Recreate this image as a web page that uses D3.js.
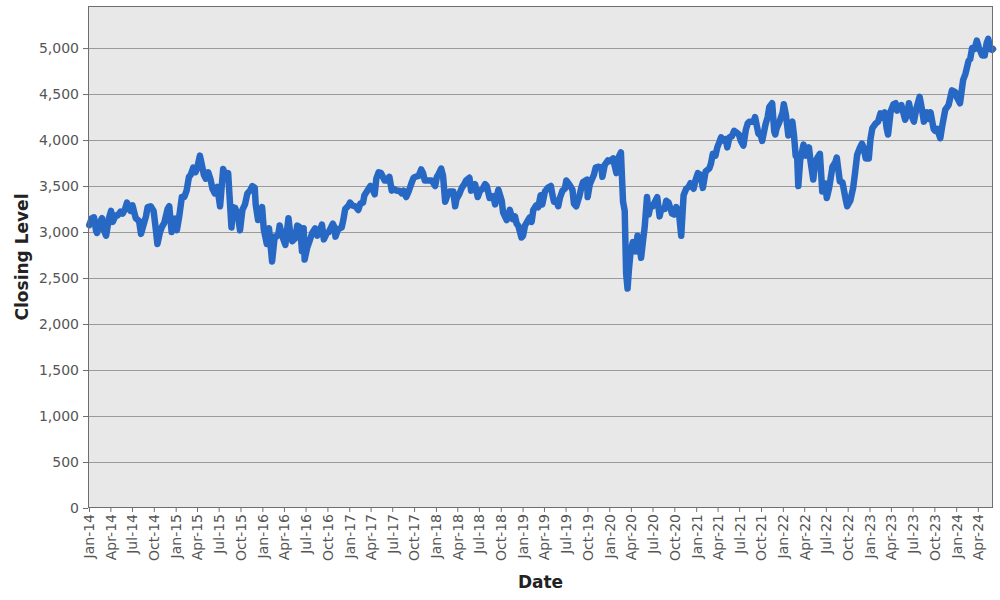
<!DOCTYPE html>
<html>
<head>
<meta charset="utf-8">
<script src="https://cdn.jsdelivr.net/npm/d3@7"></script>
<style>
  body { margin: 0; background: #fff; }
  svg { display: block; font-family: "DejaVu Sans", sans-serif; }
</style>
</head>
<body>
<svg id="chart"></svg>
<script>
const dates = [
  "2014-01-02","2014-01-13","2014-01-22","2014-01-31","2014-02-04","2014-02-14","2014-02-25","2014-03-03","2014-03-14","2014-03-26",
  "2014-04-04","2014-04-11","2014-04-23","2014-05-02","2014-05-13","2014-05-23","2014-06-02","2014-06-10","2014-06-24","2014-07-03",
  "2014-07-17","2014-07-31","2014-08-08","2014-08-19","2014-08-29","2014-09-05","2014-09-18","2014-09-30","2014-10-08","2014-10-16",
  "2014-10-27","2014-11-05","2014-11-14","2014-11-28","2014-12-05","2014-12-15","2014-12-31",
  "2015-01-06","2015-01-16","2015-01-27","2015-02-06","2015-02-16","2015-02-26","2015-03-05","2015-03-16","2015-03-26","2015-04-02",
  "2015-04-13","2015-04-22","2015-04-30","2015-05-08","2015-05-18","2015-05-28","2015-06-05","2015-06-15","2015-06-26","2015-06-29",
  "2015-07-07","2015-07-20","2015-07-30","2015-08-10","2015-08-24","2015-08-31","2015-09-09","2015-09-21","2015-09-29","2015-10-09",
  "2015-10-20","2015-10-30","2015-11-10","2015-11-20","2015-11-30","2015-12-04","2015-12-14","2015-12-23","2015-12-31",
  "2016-01-07","2016-01-20","2016-01-29","2016-02-11","2016-02-22","2016-02-29","2016-03-08","2016-03-14","2016-03-24","2016-04-07",
  "2016-04-20","2016-04-29","2016-05-06","2016-05-18","2016-05-27","2016-06-08","2016-06-16","2016-06-23","2016-06-27","2016-07-08",
  "2016-07-20","2016-07-29","2016-08-10","2016-08-19","2016-08-31","2016-09-08","2016-09-16","2016-09-29","2016-10-07","2016-10-24",
  "2016-10-31","2016-11-04","2016-11-15","2016-11-30","2016-12-07","2016-12-15","2016-12-30",
  "2017-01-04","2017-01-13","2017-01-27","2017-02-08","2017-02-17","2017-02-28","2017-03-06","2017-03-16","2017-03-31","2017-04-07",
  "2017-04-18","2017-04-25","2017-05-05","2017-05-15","2017-05-30","2017-06-07","2017-06-19","2017-06-29","2017-07-07","2017-07-20",
  "2017-07-31","2017-08-10","2017-08-18","2017-08-29","2017-09-08","2017-09-20","2017-09-29","2017-10-06","2017-10-20","2017-10-31",
  "2017-11-08","2017-11-15","2017-11-28","2017-12-06","2017-12-15","2017-12-29",
  "2018-01-05","2018-01-12","2018-01-23","2018-01-31","2018-02-09","2018-02-20","2018-02-28","2018-03-08","2018-03-15","2018-03-23",
  "2018-03-29","2018-04-09","2018-04-20","2018-04-30","2018-05-08","2018-05-22","2018-05-29","2018-06-06","2018-06-15","2018-06-26",
  "2018-07-06","2018-07-17","2018-07-27","2018-08-03","2018-08-15","2018-08-31","2018-09-07","2018-09-21","2018-09-28","2018-10-05",
  "2018-10-11","2018-10-26","2018-11-08","2018-11-20","2018-11-30","2018-12-07","2018-12-14","2018-12-27",
  "2019-01-03","2019-01-11","2019-01-24","2019-01-31","2019-02-08","2019-02-15","2019-02-27","2019-03-08","2019-03-18","2019-03-25",
  "2019-04-05","2019-04-17","2019-04-30","2019-05-07","2019-05-13","2019-05-23","2019-05-31","2019-06-07","2019-06-18","2019-06-28",
  "2019-07-04","2019-07-16","2019-07-30","2019-08-05","2019-08-15","2019-08-29","2019-09-06","2019-09-12","2019-09-30","2019-10-02",
  "2019-10-11","2019-10-28","2019-11-05","2019-11-15","2019-11-29","2019-12-03","2019-12-13","2019-12-27",
  "2020-01-03","2020-01-17","2020-01-31","2020-02-07","2020-02-19","2020-02-28","2020-03-06","2020-03-12","2020-03-18","2020-03-24",
  "2020-03-31","2020-04-09","2020-04-21","2020-04-29","2020-05-08","2020-05-14","2020-05-22","2020-05-29","2020-06-08","2020-06-15",
  "2020-06-23","2020-07-02","2020-07-21","2020-07-31","2020-08-07","2020-08-21","2020-08-28","2020-09-07","2020-09-21","2020-09-30",
  "2020-10-09","2020-10-20","2020-10-30","2020-11-09","2020-11-20","2020-11-30","2020-12-08","2020-12-21","2020-12-30",
  "2021-01-08","2021-01-20","2021-01-29","2021-02-10","2021-02-25","2021-03-04","2021-03-12","2021-03-23","2021-03-31","2021-04-09",
  "2021-04-16","2021-04-29","2021-05-06","2021-05-12","2021-05-21","2021-05-31","2021-06-10","2021-06-21","2021-06-30","2021-07-08",
  "2021-07-19","2021-07-29","2021-08-06","2021-08-13","2021-08-31","2021-09-06","2021-09-20","2021-09-30","2021-10-06","2021-10-20",
  "2021-10-29","2021-11-05","2021-11-17","2021-11-26","2021-11-30","2021-12-06","2021-12-15","2021-12-31",
  "2022-01-05","2022-01-14","2022-01-24","2022-01-31","2022-02-10","2022-02-17","2022-02-24","2022-03-02","2022-03-07","2022-03-15",
  "2022-03-29","2022-04-07","2022-04-21","2022-04-28","2022-05-09","2022-05-17","2022-05-27","2022-06-06","2022-06-16","2022-06-28",
  "2022-07-05","2022-07-15","2022-07-29","2022-08-10","2022-08-16","2022-08-29","2022-09-09","2022-09-23","2022-09-29","2022-10-12",
  "2022-10-24","2022-10-31","2022-11-10","2022-11-22","2022-11-30","2022-12-07","2022-12-16","2022-12-29",
  "2023-01-05","2023-01-13","2023-01-27","2023-02-06","2023-02-16","2023-02-28","2023-03-06","2023-03-14","2023-03-20","2023-03-31",
  "2023-04-12","2023-04-21","2023-04-27","2023-05-05","2023-05-15","2023-05-31","2023-06-09","2023-06-16","2023-06-26","2023-07-07",
  "2023-07-18","2023-07-31","2023-08-10","2023-08-18","2023-08-31","2023-09-07","2023-09-15","2023-09-28","2023-10-04","2023-10-13",
  "2023-10-26","2023-11-03","2023-11-16","2023-11-30","2023-12-07","2023-12-14","2023-12-28",
  "2024-01-05","2024-01-17","2024-01-30","2024-02-09","2024-02-22","2024-02-29","2024-03-08","2024-03-18","2024-03-28","2024-04-05",
  "2024-04-19","2024-04-30","2024-05-08","2024-05-15","2024-05-23","2024-05-31","2024-06-04"
];

const closes = [
  3075,3150,3160,3010,2990,3100,3150,3030,2960,3150,
  3230,3110,3180,3180,3220,3200,3250,3320,3230,3290,
  3150,3120,2980,3080,3170,3270,3280,3230,3060,2870,
  3000,3060,3100,3250,3280,3000,3146,
  3020,3170,3380,3380,3450,3600,3620,3700,3650,3700,
  3830,3720,3620,3580,3650,3570,3470,3420,3490,3420,
  3280,3686,3600,3640,3050,3270,3260,3160,3020,3240,
  3300,3420,3450,3500,3480,3300,3130,3200,3270,
  3030,2870,3040,2680,2950,2950,2970,3070,2960,2860,
  3150,2950,2900,2930,3070,3050,2790,3040,2700,2830,
  2920,2990,3040,2960,3020,3080,2920,2990,3000,3090,
  3050,2950,3030,3050,3130,3250,3290,
  3320,3290,3280,3240,3310,3320,3400,3440,3500,3480,
  3410,3580,3650,3640,3560,3560,3600,3450,3470,3450,
  3450,3420,3450,3380,3440,3530,3590,3600,3610,3680,
  3640,3560,3560,3560,3560,3500,
  3600,3630,3690,3610,3330,3410,3440,3440,3440,3280,
  3360,3410,3480,3520,3560,3590,3450,3480,3520,3380,
  3450,3470,3520,3500,3370,3390,3300,3460,3400,3340,
  3210,3130,3240,3140,3170,3090,3070,2940,
  2960,3070,3130,3160,3110,3240,3290,3270,3400,3300,
  3440,3480,3500,3400,3330,3340,3280,3370,3450,3470,
  3560,3520,3460,3310,3280,3400,3490,3540,3570,3380,
  3520,3620,3700,3710,3700,3600,3730,3780,
  3770,3800,3640,3800,3865,3330,3230,2550,2385,2600,
  2790,2890,2790,2960,2840,2720,2900,3050,3380,3190,
  3290,3280,3380,3170,3250,3250,3340,3320,3200,3190,
  3270,3220,2960,3400,3470,3490,3530,3470,3570,
  3640,3620,3480,3660,3690,3740,3850,3830,3920,3980,
  4030,3990,4010,3920,4030,4040,4100,4080,4060,3990,
  3940,4110,4180,4200,4200,4250,4070,4050,3990,4170,
  4250,4360,4400,4090,4060,4130,4180,4300,
  4390,4270,4050,4170,4200,4050,3830,3830,3500,3780,
  3950,3830,3920,3760,3570,3760,3810,3850,3440,3530,
  3370,3480,3710,3760,3810,3550,3540,3350,3280,3340,
  3480,3620,3840,3920,3960,3920,3800,3800,
  4010,4130,4180,4200,4290,4240,4300,4130,4060,4310,
  4390,4400,4320,4340,4380,4220,4290,4400,4270,4200,
  4350,4470,4330,4200,4300,4230,4300,4120,4100,4120,
  4020,4150,4330,4380,4460,4540,4520,
  4460,4400,4650,4720,4860,4880,5000,4990,5080,5010,
  4920,4920,5050,5100,4990,4980,4990
];

const yTicks = [0, 500, 1000, 1500, 2000, 2500, 3000, 3500, 4000, 4500, 5000];
const xStart = "2014-01-01", xEnd = "2024-06-04";

const parse = d3.timeParse("%Y-%m-%d");
const data = dates.map((d, i) => ({ date: parse(d), close: closes[i] }));

const W = 1000, H = 600;
const margin = { top: 6, right: 7, bottom: 92, left: 88 };
const width = W - margin.left - margin.right,
      height = H - margin.top - margin.bottom;

const svg = d3.select("#chart").attr("width", W).attr("height", H);
const g = svg.append("g").attr("transform", `translate(${margin.left},${margin.top})`);

const x = d3.scaleTime().domain([parse(xStart), parse(xEnd)]).range([1, width]);
const y = d3.scaleLinear().domain([0, 5457]).range([height, 0]);

g.append("rect")
  .attr("width", width).attr("height", height)
  .attr("fill", "#e8e8e8");

// horizontal grid
g.selectAll(".grid")
  .data(yTicks.slice(1))
  .enter().append("line")
  .attr("x1", 0).attr("x2", width)
  .attr("y1", d => Math.round(y(d)) + 0.5)
  .attr("y2", d => Math.round(y(d)) + 0.5)
  .attr("stroke", "#9a9a9a").attr("stroke-width", 1);

const line = d3.line().x(d => x(d.date)).y(d => y(d.close));

g.append("path")
  .datum(data)
  .attr("fill", "none")
  .attr("stroke", "#2768c4")
  .attr("stroke-width", 6.5)
  .attr("stroke-linejoin", "round")
  .attr("stroke-linecap", "round")
  .attr("d", line);

g.append("rect")
  .attr("x", 0.5).attr("y", 0.5)
  .attr("width", width - 1).attr("height", height - 1)
  .attr("fill", "none").attr("stroke", "#6e6e6e");

const yAxis = g.append("g")
  .call(d3.axisLeft(y).tickValues(yTicks).tickFormat(d3.format(",")).tickSize(5).tickPadding(4));
yAxis.select(".domain").remove();
yAxis.selectAll("line").attr("stroke", "#6e6e6e");
yAxis.selectAll("text")
  .style("font-size", "14px")
  .style("font-family", "DejaVu Sans, sans-serif")
  .attr("fill", "#555");

const xAxis = g.append("g")
  .attr("transform", `translate(0,${height})`)
  .call(d3.axisBottom(x).ticks(d3.timeMonth.every(3)).tickFormat(d3.timeFormat("%b-%y")).tickSize(4));
xAxis.select(".domain").remove();
xAxis.selectAll("line").attr("stroke", "#6e6e6e");
xAxis.selectAll("text")
  .style("font-size", "14px")
  .style("font-family", "DejaVu Sans, sans-serif")
  .attr("fill", "#555")
  .attr("text-anchor", "end")
  .attr("transform", "rotate(-90)")
  .attr("x", -6)
  .attr("y", 0)
  .attr("dy", "0.35em");

svg.append("text")
  .attr("transform", `translate(28,${margin.top + height / 2}) rotate(-90)`)
  .attr("text-anchor", "middle")
  .style("font-size", "17px")
  .style("font-weight", "bold")
  .style("font-family", "DejaVu Sans, sans-serif")
  .attr("fill", "#222")
  .text("Closing Level");

svg.append("text")
  .attr("x", margin.left + width / 2)
  .attr("y", 588)
  .attr("text-anchor", "middle")
  .style("font-size", "17px")
  .style("font-weight", "bold")
  .style("font-family", "DejaVu Sans, sans-serif")
  .attr("fill", "#222")
  .text("Date");
</script>
</body>
</html>
